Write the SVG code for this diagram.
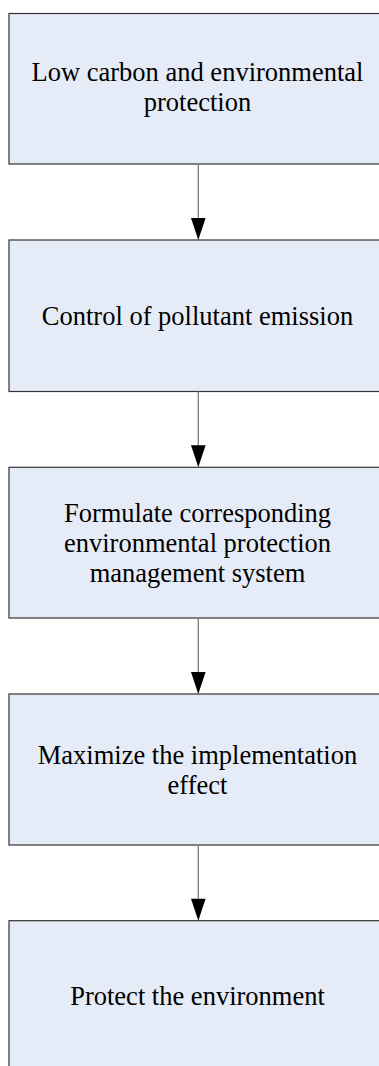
<svg xmlns="http://www.w3.org/2000/svg" width="379" height="1066" viewBox="0 0 379 1066">
<style>
.box{fill:#E6ECF7;stroke:#333333;stroke-width:1.2}
.t{font-family:"Liberation Serif","Times New Roman",serif;font-size:26.5px;fill:#000;text-anchor:middle}
.c{stroke:#7f7f7f;stroke-width:1.3;fill:none}
.ah{fill:#000}
</style>
<rect width="379" height="1066" fill="#ffffff"/>
<g id="n1"><rect class="box" x="9" y="13.5" width="378" height="150.5"/>
<text class="t" x="197.5" y="81">Low carbon and environmental</text>
<text class="t" x="197.5" y="111">protection</text></g>
<g id="n2"><rect class="box" x="9" y="240" width="378" height="151.5"/>
<text class="t" x="197.5" y="325">Control of pollutant emission</text></g>
<g id="n3"><rect class="box" x="9" y="467.3" width="378" height="150.7"/>
<text class="t" x="197.5" y="521.7">Formulate corresponding</text>
<text class="t" x="197.5" y="551.5">environmental protection</text>
<text class="t" x="197.5" y="581.5">management system</text></g>
<g id="n4"><rect class="box" x="9" y="694" width="378" height="151"/>
<text class="t" x="197.5" y="763.5">Maximize the implementation</text>
<text class="t" x="197.5" y="793.5">effect</text></g>
<g id="n5"><rect class="box" x="9" y="920.7" width="378" height="151"/>
<text class="t" x="197.5" y="1005">Protect the environment</text></g>
<g id="connectors">
<line class="c" x1="198.3" y1="164" x2="198.3" y2="220"/>
<polygon class="ah" points="191,218 205.6,218 198.3,240"/>
<line class="c" x1="198.3" y1="391.5" x2="198.3" y2="447"/>
<polygon class="ah" points="191,445.3 205.6,445.3 198.3,467.3"/>
<line class="c" x1="198.3" y1="618" x2="198.3" y2="674"/>
<polygon class="ah" points="191,672 205.6,672 198.3,694"/>
<line class="c" x1="198.3" y1="845" x2="198.3" y2="901"/>
<polygon class="ah" points="191,898.7 205.6,898.7 198.3,920.7"/>
</g>
</svg>
